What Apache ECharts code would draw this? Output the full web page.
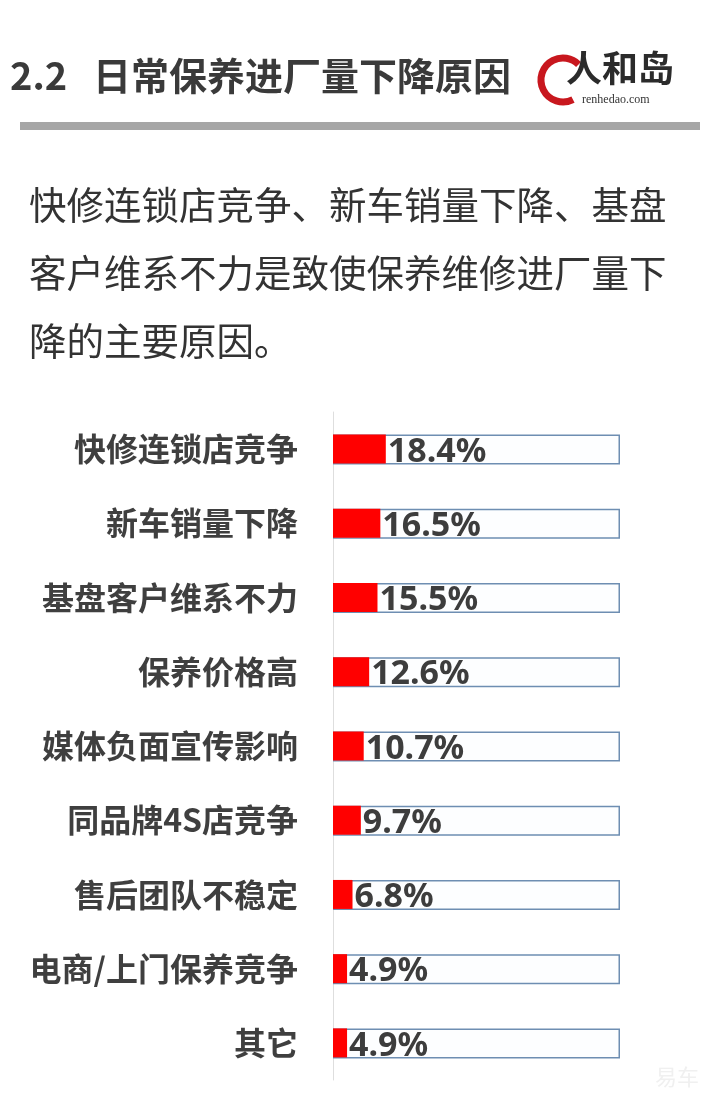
<!DOCTYPE html>
<html><head><meta charset="utf-8">
<script src="https://cdn.jsdelivr.net/npm/echarts@6/dist/echarts.min.js"></script>
<style>html,body{margin:0;padding:0;background:#fff}#c{width:720px;height:1115px}</style>
</head><body><div id="c"></div>
<script>
const categories = ['快修连锁店竞争','新车销量下降','基盘客户维系不力','保养价格高','媒体负面宣传影响','同品牌4S店竞争','售后团队不稳定','电商/上门保养竞争','其它'];
const values = [18.4, 16.5, 15.5, 12.6, 10.7, 9.7, 6.8, 4.9, 4.9];
const fullScale = [100, 100, 100, 100, 100, 100, 100, 100, 100];
const titleText = '2.2   日常保养进厂量下降原因';
const paragraphLines = ['快修连锁店竞争、新车销量下降、基盘','客户维系不力是致使保养维修进厂量下','降的主要原因。'];

const cjk = '"Noto Sans CJK SC", "Noto Sans", sans-serif';
const chart = echarts.init(document.getElementById('c'), null, {renderer: 'canvas'});
chart.setOption({
  backgroundColor: '#ffffff',
  animation: false,
  grid: {left: 333, right: 100, top: 412, bottom: 35},
  xAxis: {type: 'value', min: 0, max: 100, show: false},
  yAxis: {
    type: 'category', data: categories, inverse: true,
    axisLine: {show: true, lineStyle: {color: '#dedede', width: 1}},
    axisTick: {show: false},
    axisLabel: {fontSize: 32, fontWeight: 'bold', color: '#3f3f3f', fontFamily: cjk, margin: 35}
  },
  series: [
    {type: 'bar', data: fullScale, barWidth: 30, silent: true, z: 1,
     itemStyle: {color: '#fdfeff', borderColor: '#6e8eb2', borderWidth: 1.5}},
    {type: 'bar', data: values, barWidth: 29, barGap: '-100%', z: 3,
     itemStyle: {color: '#ff0000'},
     label: {show: true, position: 'right', distance: 2, formatter: p => p.value.toFixed(1) + '%',
       fontSize: 34, fontWeight: 'bold', color: '#3d3d3d', fontFamily: '"Noto Sans", sans-serif', offset: [0, 3]}}
  ],
  graphic: [
    {type: 'text', left: 10, top: 57, style: {text: titleText, fontSize: 38, fontWeight: 'bold', fill: '#3a3a3a', fontFamily: cjk}},
    {type: 'rect', shape: {x: 20, y: 122, width: 680, height: 8}, style: {fill: '#a6a6a6'}},
    {type: 'arc', shape: {cx: 563, cy: 80, r: 22, startAngle: Math.PI * 0.35, endAngle: Math.PI * 1.75}, style: {stroke: '#c8171e', lineWidth: 7, fill: null}},
    {type: 'text', left: 566, top: 50, style: {text: '人和岛', fontSize: 36, fontWeight: 'bold', fill: '#2b2b2b', fontFamily: '"Noto Sans CJK SC", serif'}},
    {type: 'text', left: 582, top: 94, style: {text: 'renhedao.com', fontSize: 12, fill: '#333', fontFamily: '"Liberation Serif", serif'}},
    {type: 'text', left: 29, top: 171, style: {text: paragraphLines.join('\n'), fontSize: 37.5, lineHeight: 68, fill: '#333333', fontFamily: cjk}},
    {type: 'text', left: 655, top: 1066, style: {text: '易车', fontSize: 22, fill: '#f0f0f0', fontFamily: cjk}}
  ]
});
</script></body></html>
